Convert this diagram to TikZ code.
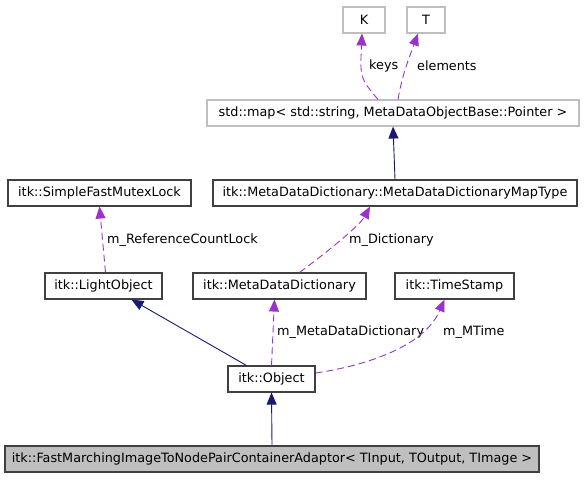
\documentclass[tikz,border=0pt]{standalone}
\usepackage{fontspec}
\setmainfont{DejaVu Sans}
\usetikzlibrary{arrows.meta}
\definecolor{memberpurple}{HTML}{9A32CD}
\definecolor{inheritnavy}{HTML}{191970}
\definecolor{boxgray}{HTML}{BFBFBF}

\tikzset{
  cls/.style={draw=black!75, line width=1.1pt, minimum height=26pt, inner sep=0pt,
    font=\fontsize{12.8}{14}\selectfont},
  ext/.style={cls, draw=boxgray},
  member/.style={memberpurple, dashed, dash pattern=on 7pt off 4pt, line width=0.9pt,
    -{Triangle[length=12pt, width=10pt]}},
  inherit/.style={inheritnavy, line width=0.9pt, -{Triangle[length=12pt, width=10pt]}},
  lbl/.style={anchor=west, inner sep=0pt, font=\fontsize{12.8}{14}\selectfont}
}

\begin{document}
\begin{tikzpicture}[x=1pt, y=-1pt]
\useasboundingbox (0,0) rectangle (585,480);

% Classes
\node[ext, minimum width=42pt] (keyK) at (364,20) {K};
\node[ext, minimum width=38pt] (typeT) at (426,20) {T};
\node[ext, minimum width=372pt] (stdmap) at (393,113) {std::map< std::string, MetaDataObjectBase::Pointer >};
\node[cls, minimum width=183pt] (mutex) at (99.5,193) {itk::SimpleFastMutexLock};
\node[cls, minimum width=364pt] (maptype) at (395,193) {itk::MetaDataDictionary::MetaDataDictionaryMapType};
\node[cls, minimum width=117pt] (light) at (103.5,286) {itk::LightObject};
\node[cls, minimum width=173pt] (mdd) at (279.5,286) {itk::MetaDataDictionary};
\node[cls, minimum width=119pt] (tstamp) at (454.5,286) {itk::TimeStamp};
\node[cls, minimum width=87pt] (object) at (271.5,379) {itk::Object};
\node[cls, fill=boxgray, minimum width=534pt] (adaptor) at (272,459) {itk::FastMarchingImageToNodePairContainerAdaptor< TInput, TOutput, TImage >};

% Members (dashed)
\draw[member] ([xshift=-15pt]stdmap.north) .. controls (360,78) .. ([xshift=-2pt]keyK.south);
\draw[member] ([xshift=5pt]stdmap.north) to[out=80, in=-110] ([xshift=-8pt]typeT.south);
\node[lbl] (keysLbl) at (369,66) {keys};
\node[lbl] (elemLbl) at (417,66) {elements};

\draw[member] ([xshift=2pt]light.north) -- (mutex.south);
\node[lbl] (refLbl) at (107,240) {m\_ReferenceCountLock};

\draw[member] ([xshift=20pt]mdd.north) .. controls (330,250) and (360,225) .. ([xshift=-25pt]maptype.south);
\node[lbl] (dictLbl) at (349,240) {m\_Dictionary};

\draw[member] (object.north) -- ([xshift=-5pt]mdd.south);
\node[lbl] (mddLbl) at (277,332) {m\_MetaDataDictionary};

\draw[member] ([yshift=6pt]object.east) .. controls (370,365) and (425,345) .. ([xshift=-10pt]tstamp.south);
\node[lbl] (timeLbl) at (443,332) {m\_MTime};

% Inheritance (solid)
\draw[inherit] (maptype.north) -- (stdmap.south);
\draw[inherit] ([xshift=-25pt]object.north) -- ([xshift=28pt]light.south);
\draw[inherit] (adaptor.north) -- (object.south);

\end{tikzpicture}
\end{document}
